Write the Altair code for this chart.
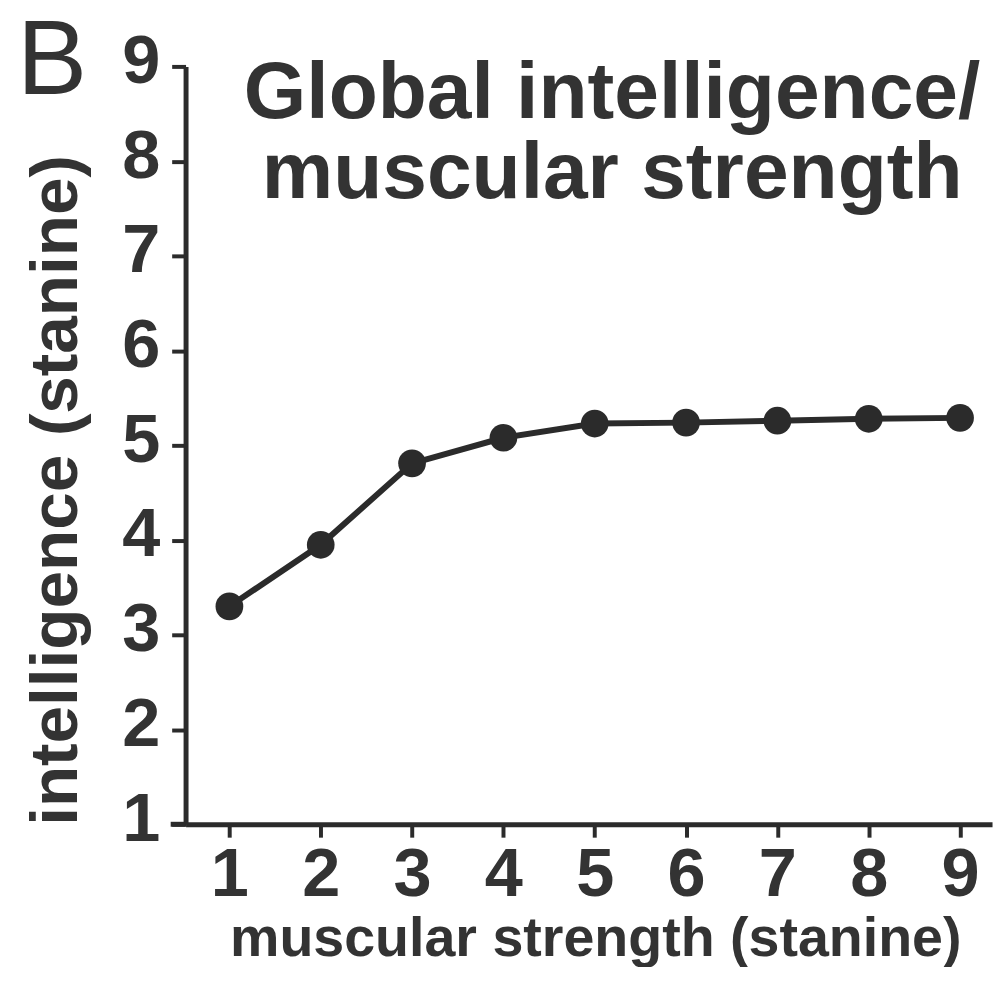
import altair as alt
import pandas as pd

strength = [1, 2, 3, 4, 5, 6, 7, 8, 9]
intelligence = [3.30, 3.95, 4.81, 5.08, 5.23, 5.24, 5.26, 5.28, 5.29]
title_lines = ["Global intelligence/", "muscular strength"]
panel_label = "B"
y_ticks = [1, 2, 3, 4, 5, 6, 7, 8, 9]
x_ticks = [1, 2, 3, 4, 5, 6, 7, 8, 9]

df = pd.DataFrame({"strength": strength, "intelligence": intelligence})

INK = "#2b2b2b"
W, H = 813, 764

x = alt.X("strength:Q",
          scale=alt.Scale(domain=[0.52, 9.35], nice=False, zero=False),
          axis=alt.Axis(values=x_ticks, title="muscular strength (stanine)",
                        titleX=413, titleY=132, titleAlign="center",
                        titleBaseline="alphabetic", titleAngle=0,
                        titleFontSize=56,
                        tickSize=13, labelPadding=4))
y = alt.Y("intelligence:Q",
          scale=alt.Scale(domain=[1, 9], nice=False, zero=False),
          axis=alt.Axis(values=y_ticks, title="intelligence (stanine)",
                        titleX=-110, titleY=427, titleAlign="center",
                        titleBaseline="alphabetic", titleAngle=-90,
                        titleFontSize=68, labelOffset=-5,
                        tickSize=14, labelPadding=12))

base = alt.Chart(df)
line = base.mark_line(color=INK, strokeWidth=6).encode(x=x, y=y)
pts = base.mark_circle(color=INK, opacity=1, size=780).encode(x=x, y=y)

one = alt.Data(values=[{"k": 1}])
title_txt = alt.Chart(one).mark_text(
    font="Liberation Sans", fontWeight="bold", fontSize=81, lineHeight=81,
    align="center", baseline="alphabetic", color="#333333"
).encode(x=alt.value(430), y=alt.value(52), text=alt.value(title_lines))

label_txt = alt.Chart(one).mark_text(
    font="Liberation Sans", fontSize=106, align="left",
    baseline="alphabetic", color="#333333"
).encode(x=alt.value(-170), y=alt.value(28), text=alt.value(panel_label))

ext = alt.Chart(one).mark_rule(color=INK, strokeWidth=5).encode(
    x=alt.value(-15), x2=alt.value(0), y=alt.value(H))

chart = alt.layer(ext, line, pts, title_txt, label_txt).properties(
    width=W, height=H,
    autosize=alt.AutoSizeParams(type="none"),
    padding={"left": 179, "top": 55, "right": 4, "bottom": 140},
).configure_view(stroke=None).configure_axis(
    grid=False,
    domainColor=INK, domainWidth=5,
    tickColor=INK, tickWidth=4,
    labelFont="Liberation Sans", labelFontWeight="bold", labelFontSize=69,
    labelColor="#333333",
    titleFont="Liberation Sans", titleFontWeight="bold",
    titleColor="#333333",
)

chart.save("out.html", embed_options={"renderer": "svg", "actions": False})
